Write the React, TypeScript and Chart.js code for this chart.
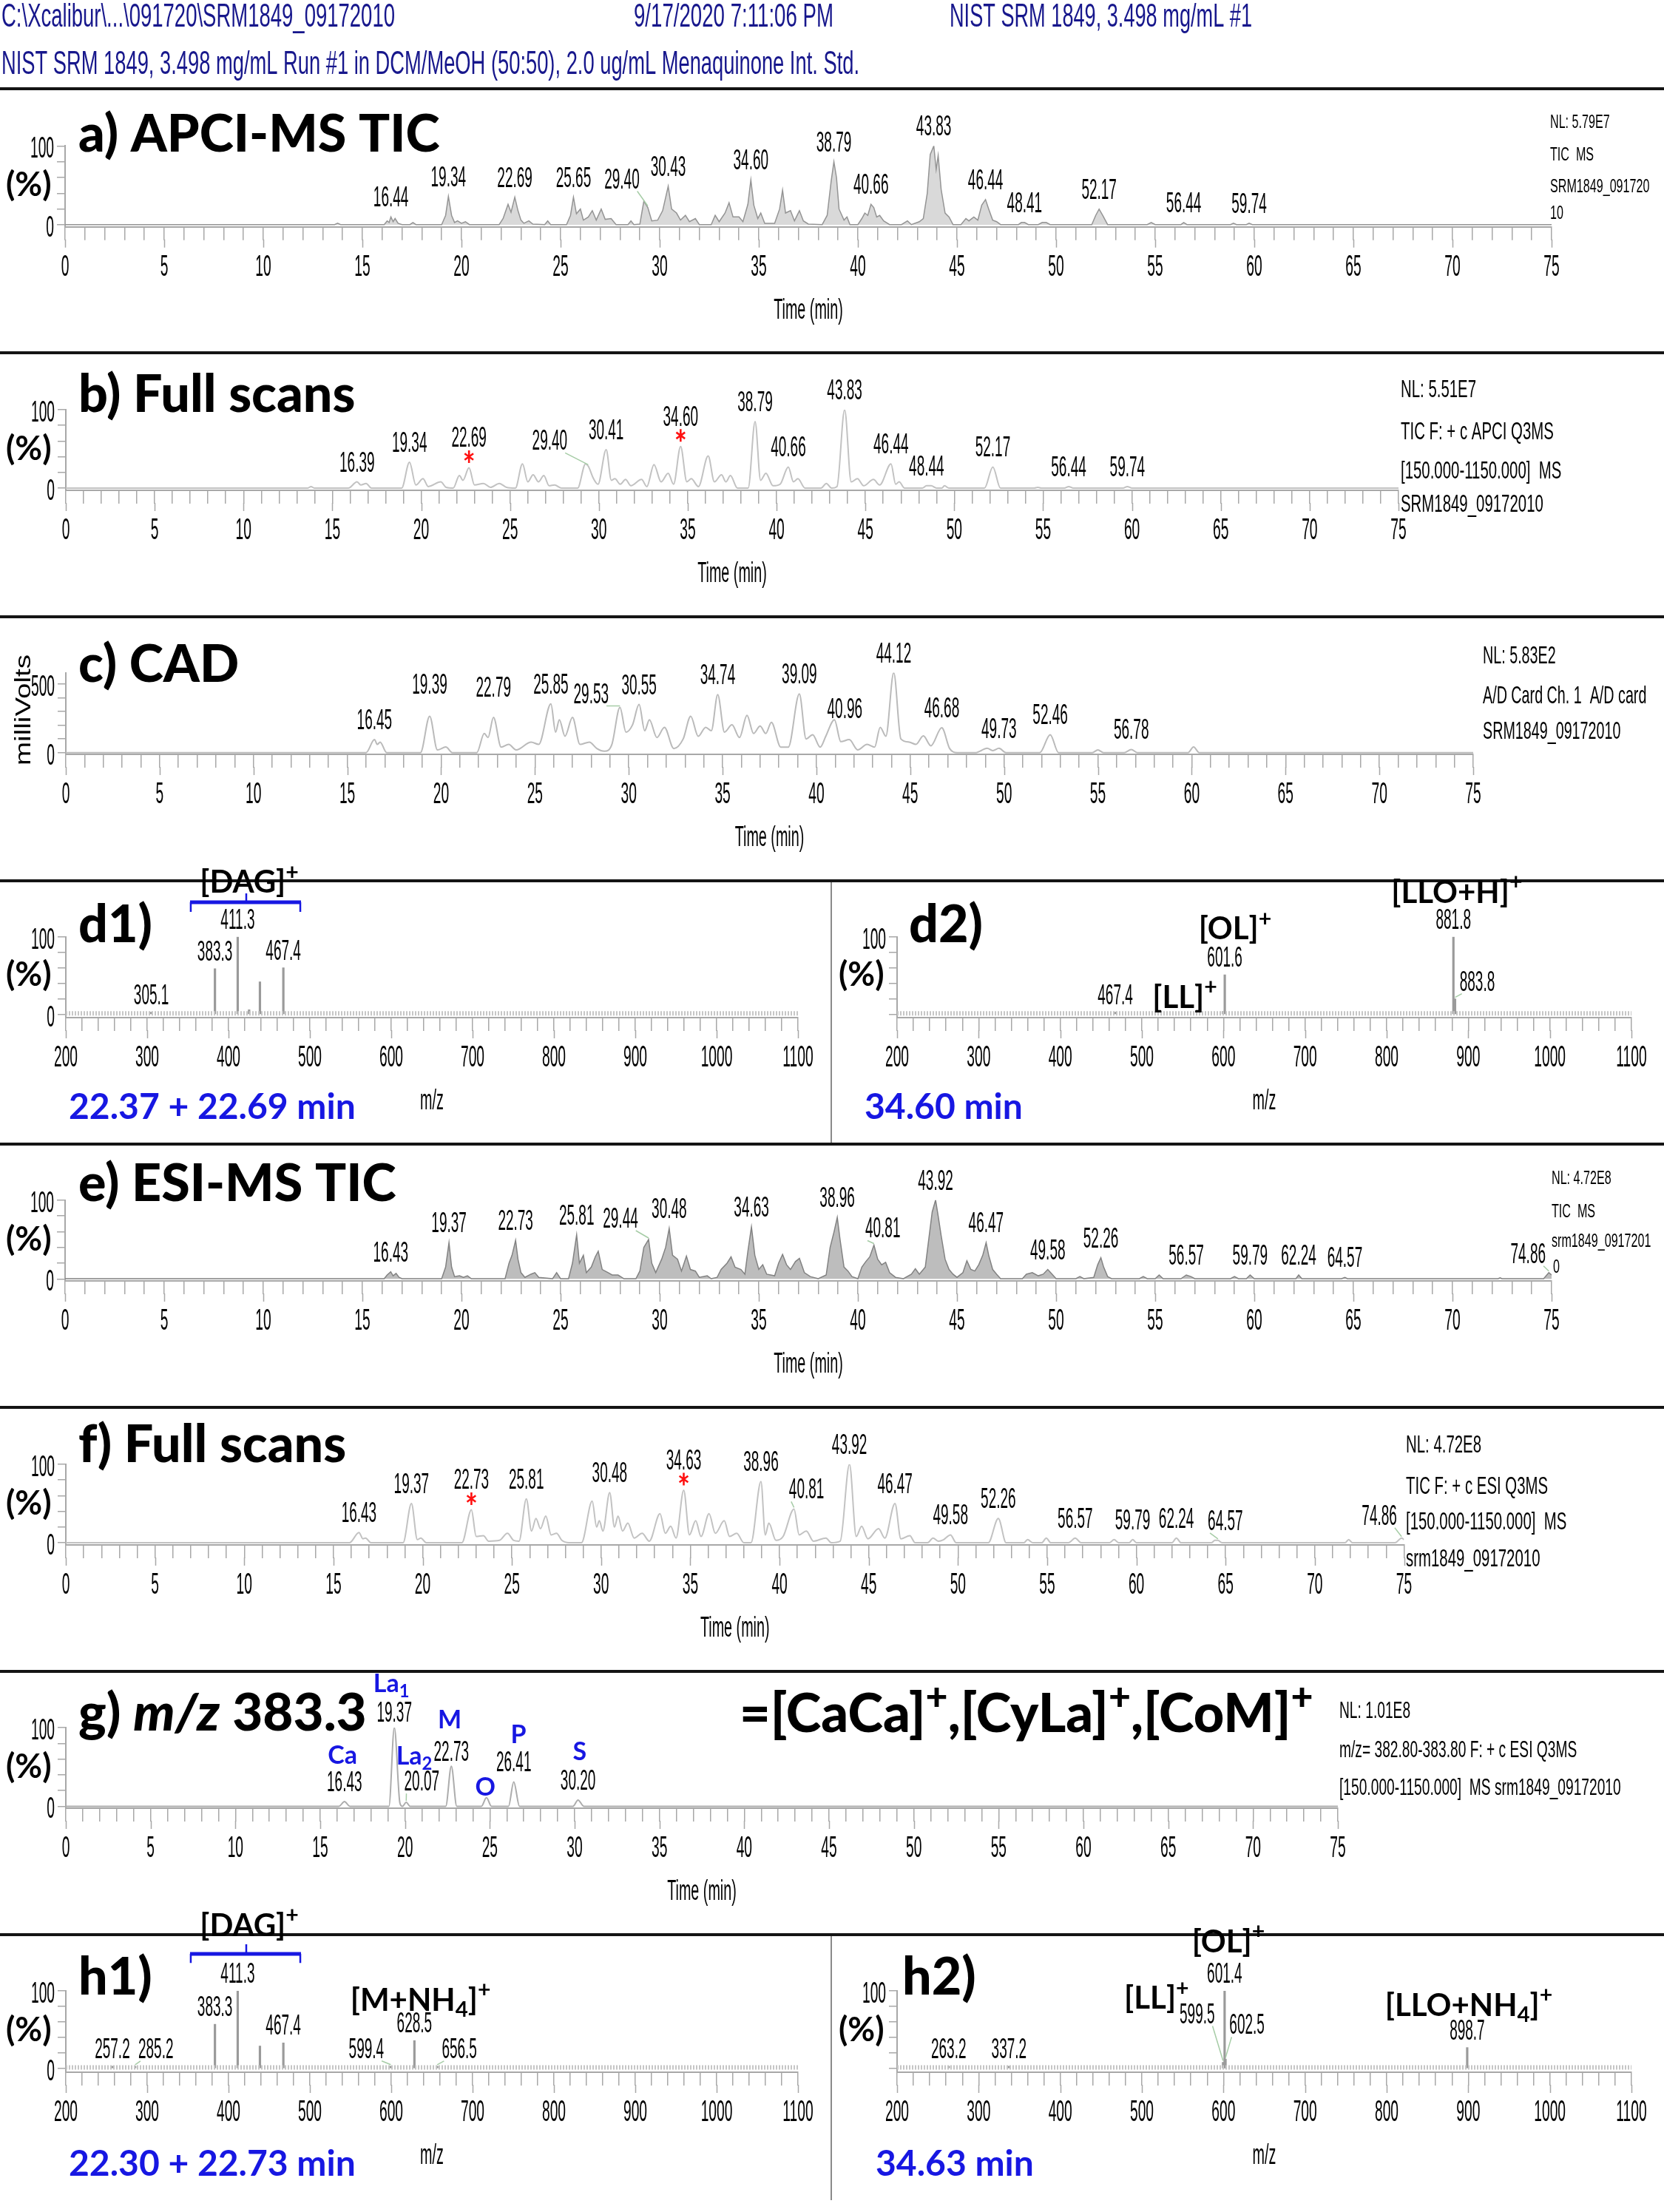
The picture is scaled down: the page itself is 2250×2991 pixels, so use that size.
import React, { useEffect, useRef } from "react";
import { Chart, registerables } from "chart.js";

Chart.register(...registerables);

type Pt = [number, number];

/* ================= DATA ================= */
// a) APCI-MS TIC (time min, relative %)
const apciTic: Pt[] = [
  [0, 0.3], [13.6, 0.3], [13.75, 2], [13.9, 0.3],
  [16.1, 0.3], [16.25, 5], [16.35, 3], [16.44, 10], [16.55, 4], [16.65, 8], [16.8, 2], [17.0, 0.3],
  [17.4, 0.3], [17.55, 3], [17.7, 0.3],
  [19.0, 0.3], [19.2, 12], [19.34, 36], [19.5, 12], [19.65, 3], [19.8, 5], [20.0, 2], [20.2, 4], [20.4, 0.3],
  [21.9, 0.3], [22.1, 8], [22.35, 26], [22.5, 16], [22.69, 35], [22.85, 18], [23.0, 6], [23.15, 2], [23.4, 5], [23.6, 1],
  [24.2, 0.3], [24.35, 5], [24.5, 0.3],
  [25.3, 0.3], [25.5, 12], [25.65, 35], [25.8, 14], [26.0, 20], [26.15, 6], [26.4, 10], [26.6, 18], [26.8, 6], [27.05, 20], [27.25, 7], [27.55, 8], [27.8, 0.3],
  [28.4, 0.3], [28.55, 5], [28.7, 0.3],
  [29.0, 1], [29.2, 30], [29.4, 22], [29.6, 5], [29.9, 6], [30.15, 18], [30.43, 49], [30.6, 20], [30.85, 15], [31.05, 6], [31.3, 12], [31.5, 4], [31.8, 8], [32.0, 0.3],
  [32.6, 0.3], [32.8, 12], [33.0, 4], [33.3, 15], [33.5, 28], [33.7, 10], [34.0, 10], [34.2, 4], [34.45, 26], [34.6, 57], [34.75, 25], [34.95, 8], [35.1, 15], [35.3, 2],
  [35.8, 2], [36.05, 20], [36.2, 44], [36.35, 15], [36.6, 18], [36.8, 5], [37.05, 18], [37.25, 5], [37.5, 1],
  [38.2, 0.3], [38.45, 12], [38.65, 55], [38.79, 80], [38.92, 60], [39.05, 20], [39.3, 6], [39.45, 10], [39.6, 0.3],
  [40.0, 0.3], [40.2, 8], [40.35, 15], [40.5, 12], [40.66, 26], [40.8, 22], [40.95, 10], [41.1, 12], [41.3, 5], [41.6, 0.3],
  [42.2, 0.3], [42.5, 5], [42.7, 0.3], [43.1, 4], [43.3, 8], [43.5, 40], [43.65, 89], [43.83, 100], [43.95, 70], [44.05, 88], [44.2, 45], [44.4, 15], [44.6, 10], [44.8, 0.3],
  [45.2, 0.3], [45.45, 8], [45.6, 5], [45.85, 10], [46.05, 6], [46.25, 25], [46.44, 32], [46.6, 20], [46.8, 6], [47.0, 4], [47.2, 0.3],
  [48.1, 0.3], [48.25, 3], [48.41, 3], [48.6, 0.3], [49.1, 0.3], [49.3, 3], [49.5, 3], [49.7, 0.3],
  [51.8, 0.3], [52.0, 12], [52.17, 20], [52.35, 12], [52.6, 0.3],
  [54.6, 0.3], [54.8, 3], [55.0, 0.3], [56.3, 0.3], [56.44, 3], [56.6, 0.3], [58.8, 0.3], [58.95, 2], [59.1, 0.3], [59.6, 0.3], [59.74, 2], [59.9, 0.3], [75, 0.3],
];
const apciTicPeaks = [16.44, 19.34, 22.69, 25.65, 29.4, 30.43, 34.6, 38.79, 40.66, 43.83, 46.44, 48.41, 52.17, 56.44, 59.74];

// b) APCI full scans
const apciFull: Pt[] = [
  [0, 0], [13.6, 0], [13.8, 2], [14.0, 0],
  [15.9, 0], [16.39, 8], [16.6, 4], [16.9, 6], [17.2, 0],
  [18.9, 0], [19.34, 33], [19.7, 4], [20.1, 12], [20.4, 2], [21.1, 8], [21.4, 1],
  [21.8, 0], [22.15, 16], [22.35, 10], [22.69, 26], [23.0, 4], [23.5, 6], [23.9, 1], [24.4, 6], [24.8, 1],
  [25.3, 0], [25.7, 31], [26.0, 8], [26.3, 17], [26.6, 8], [26.9, 16], [27.2, 3], [27.5, 4], [27.9, 0],
  [28.8, 0], [29.25, 31], [29.4, 28], [29.7, 12], [29.95, 5], [30.41, 49], [30.7, 10], [30.9, 12], [31.2, 5], [31.5, 11], [31.8, 3], [32.4, 11], [32.7, 2],
  [33.1, 30], [33.5, 8], [33.9, 19], [34.2, 5], [34.6, 53], [34.95, 8], [35.2, 12], [35.6, 2], [36.15, 41], [36.5, 8], [36.9, 17], [37.15, 8], [37.4, 16], [37.8, 0],
  [38.4, 0], [38.79, 85], [39.1, 10], [39.4, 19], [39.8, 3], [40.2, 5], [40.66, 27], [40.95, 8], [41.2, 12], [41.6, 0],
  [42.5, 0], [42.8, 6], [43.1, 0], [43.4, 2], [43.83, 100], [44.2, 8], [44.55, 12], [44.9, 3], [45.45, 11], [45.8, 4], [46.44, 31], [46.7, 5], [46.9, 8], [47.2, 0],
  [48.2, 0], [48.44, 3], [48.7, 3], [49.0, 0], [49.3, 0], [49.45, 3], [49.7, 0],
  [51.7, 0], [52.17, 27], [52.6, 0],
  [54.5, 0], [54.7, 1], [54.9, 0], [56.2, 0], [56.44, 2], [56.7, 0], [59.5, 0], [59.74, 2], [60.0, 0], [75, 0],
];
const apciFullPeaks = [16.39, 19.34, 22.69, 29.4, 30.41, 34.6, 38.79, 40.66, 43.83, 46.44, 48.44, 52.17, 56.44, 59.74];
const apciFullStars = [22.69, 34.6];

// c) CAD (milliVolts)
const cadTrace: Pt[] = [
  [0, 0], [16.0, 0], [16.45, 95], [16.6, 60], [16.75, 77], [17.1, 0],
  [18.9, 0], [19.39, 266], [19.8, 20], [20.25, 41], [20.6, 0],
  [21.9, 0], [22.3, 140], [22.5, 110], [22.79, 257], [23.2, 40], [23.6, 60], [24.0, 20], [24.8, 77], [25.2, 60],
  [25.85, 356], [26.1, 150], [26.3, 240], [26.6, 120], [27.0, 257], [27.4, 60], [27.9, 77], [28.3, 30], [28.7, 10],
  [29.1, 60], [29.53, 330], [29.85, 150], [30.2, 203], [30.55, 351], [30.85, 160], [31.1, 240], [31.5, 110], [31.9, 185], [32.4, 30],
  [32.9, 100], [33.3, 266], [33.7, 120], [34.1, 185], [34.4, 160], [34.74, 423], [35.1, 150], [35.5, 203], [35.9, 110], [36.3, 272], [36.65, 140], [37.0, 194], [37.3, 140], [37.6, 221], [38.1, 40], [38.5, 40],
  [39.09, 428], [39.45, 100], [39.8, 131], [40.2, 40], [40.5, 120], [40.96, 240], [41.3, 80], [41.75, 95], [42.2, 20],
  [42.7, 60], [43.1, 40], [43.4, 185], [43.7, 120], [44.12, 583], [44.5, 100], [44.95, 77], [45.3, 60], [45.7, 122], [46.1, 50], [46.68, 182], [47.1, 30], [47.5, 0],
  [48.5, 0], [49.1, 32], [49.4, 15], [49.73, 32], [50.1, 0],
  [51.9, 0], [52.46, 131], [52.9, 0],
  [54.7, 0], [55.0, 20], [55.3, 0], [56.4, 0], [56.78, 23], [57.1, 0], [59.8, 0], [60.1, 41], [60.4, 0], [75, 0],
];
const cadPeaks = [16.45, 19.39, 22.79, 25.85, 29.53, 30.55, 34.74, 39.09, 40.96, 44.12, 46.68, 49.73, 52.46, 56.78];

// e) ESI-MS TIC
const esiTic: Pt[] = [
  [0, 0.3], [16.1, 0.3], [16.25, 5], [16.43, 9], [16.55, 4], [16.7, 7], [16.85, 2], [17.0, 0.3],
  [19.0, 0.3], [19.2, 15], [19.37, 46], [19.5, 15], [19.65, 3], [19.9, 4], [20.1, 2], [20.3, 4], [20.5, 0.3],
  [22.2, 0.3], [22.4, 20], [22.55, 30], [22.73, 49], [22.85, 25], [23.0, 8], [23.2, 2], [23.5, 6], [23.7, 8], [23.9, 2], [24.6, 0.3], [24.8, 8], [25.0, 0.3],
  [25.4, 0.3], [25.6, 20], [25.81, 56], [25.95, 20], [26.15, 30], [26.3, 8], [26.55, 15], [26.75, 28], [26.9, 35], [27.1, 12], [27.4, 8], [27.6, 5], [27.9, 5], [28.2, 0.3],
  [28.8, 0.3], [29.0, 10], [29.2, 40], [29.44, 50], [29.6, 20], [29.8, 8], [30.1, 25], [30.3, 40], [30.48, 64], [30.65, 30], [30.9, 25], [31.1, 10], [31.35, 29], [31.55, 12], [31.8, 10], [32.0, 2], [32.4, 4], [32.6, 0.3],
  [32.9, 2], [33.1, 12], [33.4, 20], [33.6, 28], [33.8, 15], [34.1, 12], [34.3, 6], [34.45, 35], [34.63, 66], [34.8, 30], [35.0, 12], [35.2, 18], [35.4, 6],
  [35.8, 4], [36.0, 20], [36.2, 31], [36.4, 18], [36.6, 12], [36.85, 22], [37.05, 26], [37.3, 8], [37.6, 3], [38.0, 0.3],
  [38.4, 5], [38.6, 40], [38.8, 60], [38.96, 78], [39.1, 50], [39.3, 15], [39.5, 10], [39.7, 3], [40.0, 0.3],
  [40.2, 15], [40.4, 22], [40.6, 28], [40.81, 43], [41.0, 25], [41.2, 18], [41.4, 21], [41.6, 8], [41.9, 2], [42.3, 0.3],
  [42.7, 6], [42.9, 13], [43.1, 6], [43.4, 15], [43.6, 55], [43.75, 85], [43.92, 100], [44.05, 80], [44.2, 55], [44.4, 25], [44.6, 12], [44.8, 6], [45.0, 2],
  [45.3, 8], [45.5, 23], [45.7, 12], [45.9, 10], [46.1, 18], [46.3, 30], [46.47, 46], [46.6, 30], [46.8, 12], [47.0, 6], [47.2, 0.3],
  [48.3, 0.3], [48.5, 6], [48.8, 8], [49.1, 4], [49.35, 6], [49.58, 12], [49.8, 6], [50.0, 0.3],
  [51.0, 0.3], [51.2, 3], [51.4, 0.3], [51.9, 2], [52.1, 18], [52.26, 27], [52.4, 15], [52.6, 3], [52.8, 0.3],
  [54.2, 0.3], [54.4, 3], [54.6, 0.3], [55.0, 0.3], [55.2, 5], [55.4, 0.3], [56.3, 0.3], [56.57, 5], [56.8, 3], [57.0, 0.3],
  [58.8, 0.3], [59.0, 3], [59.2, 0.3], [59.6, 0.3], [59.79, 5], [60.0, 0.3], [62.1, 0.3], [62.24, 5], [62.4, 0.3], [64.4, 0.3], [64.57, 2], [64.7, 0.3],
  [72.3, 0.3], [72.4, 1.5], [72.5, 0.3], [74.6, 0.3], [74.86, 8], [75, 5],
];
const esiTicPeaks = [16.43, 19.37, 22.73, 25.81, 29.44, 30.48, 34.63, 38.96, 40.81, 43.92, 46.47, 49.58, 52.26, 56.57, 59.79, 62.24, 64.57, 74.86];

// f) ESI full scans
const esiFull: Pt[] = [
  [0, 0], [15.9, 0], [16.43, 13], [16.65, 5], [16.8, 6], [17.1, 0],
  [18.9, 0], [19.37, 50], [19.7, 4], [19.9, 6], [20.2, 0],
  [22.2, 0], [22.73, 42], [23.0, 8], [23.4, 9], [23.7, 2], [24.3, 3], [24.75, 12], [25.1, 3],
  [25.4, 2], [25.81, 56], [26.1, 15], [26.35, 31], [26.6, 18], [26.9, 34], [27.2, 10], [27.5, 12], [27.8, 3], [28.2, 0],
  [28.9, 0], [29.5, 53], [29.75, 20], [29.9, 28], [30.1, 15], [30.48, 64], [30.75, 20], [30.95, 34], [31.2, 15], [31.5, 25], [31.85, 6], [32.3, 12], [32.7, 2],
  [33.3, 37], [33.6, 12], [33.9, 21], [34.2, 6], [34.63, 67], [34.95, 10], [35.3, 28], [35.6, 8], [36.05, 37], [36.4, 12], [36.9, 28], [37.2, 8], [37.6, 12], [38.0, 0],
  [38.4, 0], [38.96, 78], [39.2, 10], [39.4, 25], [39.8, 3], [40.2, 8], [40.81, 43], [41.1, 10], [41.5, 15], [41.9, 2], [42.6, 6], [42.9, 0],
  [43.4, 2], [43.92, 100], [44.3, 8], [44.6, 21], [44.95, 5], [45.55, 18], [45.9, 6], [46.47, 50], [46.8, 5], [47.3, 9], [47.6, 0],
  [48.3, 0], [48.6, 6], [48.9, 2], [49.2, 4], [49.58, 10], [49.9, 0],
  [51.7, 0], [52.26, 31], [52.7, 0],
  [53.7, 0], [53.9, 4], [54.2, 0], [54.7, 0], [54.95, 6], [55.2, 0], [56.2, 0], [56.57, 6], [56.9, 0], [58.5, 0], [58.75, 4], [59.0, 0], [59.6, 0], [59.79, 4], [60.0, 0],
  [62.0, 0], [62.24, 6], [62.5, 0], [64.2, 0], [64.4, 3], [64.57, 3], [64.8, 0], [71.7, 0], [71.9, 4], [72.1, 0], [74.5, 0], [74.86, 6], [75, 4],
];
const esiFullPeaks = [16.43, 19.37, 22.73, 25.81, 30.48, 34.63, 38.96, 40.81, 43.92, 46.47, 49.58, 52.26, 56.57, 59.79, 62.24, 64.57, 74.86];
const esiFullStars = [22.73, 34.63];

// g) m/z 383.3 extracted ion chromatogram
const xic383: Pt[] = [
  [0, 0], [16.1, 0], [16.43, 6], [16.75, 0],
  [19.05, 0], [19.37, 100], [19.7, 4], [19.85, 0], [20.07, 5], [20.3, 0],
  [22.4, 0], [22.73, 51], [23.05, 0],
  [24.5, 0], [24.8, 11], [25.1, 0],
  [26.1, 0], [26.41, 31], [26.75, 0],
  [29.9, 0], [30.2, 8], [30.55, 0], [75, 0],
];
const xic383Peaks = [16.43, 19.37, 20.07, 22.73, 26.41, 30.2];

// mass spectra (m/z, relative %)
const d1Sticks: Pt[] = [[305.1, 3], [383.3, 59], [411.3, 100], [425.3, 6], [438.6, 42], [467.4, 60]];
const d1Peaks = [305.1, 383.3, 411.3, 467.4];
const d2Sticks: Pt[] = [[467.4, 3], [599.5, 4], [601.6, 51], [881.8, 100], [883.8, 20]];
const d2Peaks = [467.4, 601.6, 881.8, 883.8];
const h1Sticks: Pt[] = [[257.2, 3], [285.2, 3], [383.3, 57], [411.3, 100], [438.6, 29], [467.4, 33], [599.4, 3], [628.5, 36], [656.5, 3]];
const h1Peaks = [257.2, 285.2, 383.3, 411.3, 467.4, 599.4, 628.5, 656.5];
const h2Sticks: Pt[] = [[263.2, 3], [337.2, 3], [599.5, 8], [601.4, 100], [602.5, 12], [898.7, 27]];
const h2Peaks = [263.2, 337.2, 599.5, 601.4, 602.5, 898.7];

// ticks
const timeTickLabels = [0, 5, 10, 15, 20, 25, 30, 35, 40, 45, 50, 55, 60, 65, 70, 75];
const timeMinorTicks = Array.from({ length: 76 }, (_, i) => i);
const mzTickLabels = [200, 300, 400, 500, 600, 700, 800, 900, 1000, 1100];
const mzMinorTicks = Array.from({ length: 46 }, (_, i) => 200 + i * 20);
const pctTicks = [0, 20, 40, 60, 80, 100];
const mvTicks = [0, 100, 200, 300, 400, 500];

/* ================= DRAW HELPERS ================= */
const AX = "#a8a8a8";
const COND = '"Liberation Sans", Arimo, Arial, sans-serif';
const HEAVY = 'Lato, "Noto Sans", "DejaVu Sans", sans-serif';
const BLUE = "#1717e2";
const NAVY = "#17178c";
const LEADER = "#a6cca6";

type Ctx = CanvasRenderingContext2D;
type Run = { t: string; m?: "sup" | "sub" | "it" };

function drawCond(ctx: Ctx, text: string, x: number, y: number, size: number, sx: number,
  align: "left" | "center" | "right" = "center", color = "#000") {
  ctx.save();
  ctx.font = `normal ${size}px ${COND}`;
  const w = ctx.measureText(text).width * sx;
  const x0 = align === "center" ? x - w / 2 : align === "right" ? x - w : x;
  ctx.translate(x0, y);
  ctx.scale(sx, 1);
  ctx.fillStyle = color;
  ctx.textAlign = "left";
  ctx.textBaseline = "alphabetic";
  ctx.fillText(text, 0, 0);
  ctx.restore();
  return w;
}

function drawFit(ctx: Ctx, text: string, x: number, y: number, size: number, width: number,
  color = "#000", align: "left" | "center" = "left") {
  ctx.save();
  ctx.font = `normal ${size}px ${COND}`;
  const w = ctx.measureText(text).width;
  ctx.restore();
  drawCond(ctx, text, x, y, size, width / w, align, color);
}

function drawRich(ctx: Ctx, runs: Run[], x: number, y: number, size: number, color: string,
  align: "left" | "center" = "left", weight = "bold") {
  const font = (r: Run) => {
    const s = r.m === "sup" ? size * 0.72 : r.m === "sub" ? size * 0.7 : size;
    return `${r.m === "it" ? "italic " : ""}${weight} ${s}px ${HEAVY}`;
  };
  ctx.save();
  ctx.textAlign = "left";
  ctx.textBaseline = "alphabetic";
  ctx.fillStyle = color;
  const ws = runs.map((r) => { ctx.font = font(r); return ctx.measureText(r.t).width; });
  const total = ws.reduce((a, b) => a + b, 0);
  let cx = align === "center" ? x - total / 2 : x;
  runs.forEach((r, i) => {
    ctx.font = font(r);
    const dy = r.m === "sup" ? -size * 0.42 : r.m === "sub" ? size * 0.2 : 0;
    ctx.fillText(r.t, cx, y + dy);
    cx += ws[i];
  });
  ctx.restore();
}

function drawStar(ctx: Ctx, x: number, y: number) {
  ctx.save();
  ctx.strokeStyle = "#ff1010";
  ctx.lineWidth = 2.6;
  ctx.beginPath();
  const r = 8.5;
  for (let k = 0; k < 3; k++) {
    const a = Math.PI / 2 + (k * Math.PI) / 3;
    ctx.moveTo(x + Math.cos(a) * r * 0.8, y + Math.sin(a) * r);
    ctx.lineTo(x - Math.cos(a) * r * 0.8, y - Math.sin(a) * r);
  }
  ctx.stroke();
  ctx.restore();
}

/* ================= PANELS ================= */
interface Panel {
  id: string;
  top: number; height: number;
  xPx: [number, number]; xRange: [number, number];
  yPx: [number, number]; yRange: [number, number];
  ms: boolean;
  yTicks: number[]; yLabels: number[];
  minorTicks: number[]; majorTicks: number[];
  axisTitle: string;
  trace?: Pt[]; sticks?: Pt[];
  peaks: number[];
  stars?: number[];
  nudges?: Record<string, [number, number]>;
  leaders?: string[];
  line?: { color: string; width: number; fill?: string; smooth: boolean };
  extra?: (ctx: Ctx, xs: any, ys: any) => void;
}

const TIC_A = { color: "#949494", width: 1.5, fill: "rgba(165,165,165,0.42)", smooth: false };
const TIC_E = { color: "#828282", width: 1.5, fill: "rgba(135,135,135,0.55)", smooth: false };
const FULL = { color: "#c2c2c2", width: 2, smooth: true };
const CADL = { color: "#bababa", width: 2, smooth: true };
const XICL = { color: "#acacac", width: 2, smooth: true };

function ion(ctx: Ctx, xs: any, ys: any, runs: Run[], mz: number, yc: number) {
  drawRich(ctx, runs, xs.getPixelForValue(mz), ys.getPixelForValue(yc) + 15, 42, "#000", "center", "bold");
}
function bracket(ctx: Ctx, xs: any, ys: any, m1: number, m2: number, mc: number, yv: number, yEnd: number, yTop: number) {
  const x1 = xs.getPixelForValue(m1), x2 = xs.getPixelForValue(m2), xc = xs.getPixelForValue(mc);
  const y = ys.getPixelForValue(yv), ye = ys.getPixelForValue(yEnd), yt = ys.getPixelForValue(yTop);
  ctx.save();
  ctx.strokeStyle = BLUE;
  ctx.lineWidth = 2.5;
  ctx.beginPath();
  ctx.moveTo(x1, ye); ctx.lineTo(x1, y);
  ctx.moveTo(x2, ye); ctx.lineTo(x2, y);
  ctx.moveTo(xc, y); ctx.lineTo(xc, yt);
  ctx.stroke();
  ctx.lineWidth = 5;
  ctx.beginPath();
  ctx.moveTo(x1 - 1, y); ctx.lineTo(x2 + 1, y);
  ctx.stroke();
  ctx.restore();
}

const chromBase = {
  ms: false, yTicks: pctTicks, yLabels: [0, 100], minorTicks: timeMinorTicks, majorTicks: timeTickLabels,
  axisTitle: "Time (min)", xRange: [0, 75] as [number, number],
};
const msBase = {
  ms: true, yTicks: pctTicks, minorTicks: mzMinorTicks, majorTicks: mzTickLabels,
  axisTitle: "m/z", xRange: [200, 1100] as [number, number],
};

const PANELS: Panel[] = [
  { ...chromBase, id: "a", top: 124, height: 350, xPx: [88, 2098], yPx: [197.3, 306.7], yRange: [100, -2.5],
    trace: apciTic, peaks: apciTicPeaks, line: TIC_A, nudges: { "29.40": [-35, -12] }, leaders: ["29.40"] },
  { ...chromBase, id: "b", top: 480, height: 350, xPx: [89, 1891], yPx: [554, 663], yRange: [100, -2.8],
    trace: apciFull, peaks: apciFullPeaks, stars: apciFullStars, line: FULL, nudges: { "29.40": [-52, -8] }, leaders: ["29.40"] },
  { ...chromBase, id: "c", top: 836, height: 350, xPx: [89, 1992], yPx: [909.6, 1020], yRange: [583, -12.4],
    yTicks: mvTicks, yLabels: [0, 500], trace: cadTrace, peaks: cadPeaks, line: CADL,
    nudges: { "19.39": [0, -16], "22.79": [0, -14], "40.96": [14, 12], "29.53": [-39, 8] }, leaders: ["29.53"] },
  { ...msBase, id: "d1", top: 1150, height: 395, xPx: [89, 1079], yPx: [1266.7, 1375.9], yRange: [100, -4],
    yLabels: [0, 100], sticks: d1Sticks, peaks: d1Peaks,
    extra: (ctx, xs, ys) => {
      ion(ctx, xs, ys, [{ t: "[DAG]" }, { t: "+", m: "sup" }], 425.5, 171);
      bracket(ctx, xs, ys, 353.6, 488.2, 421.8, 144.5, 132, 156);
    } },
  { ...msBase, id: "d2", top: 1150, height: 395, xPx: [1213, 2206], yPx: [1266.7, 1375.9], yRange: [100, -4],
    yLabels: [100], sticks: d2Sticks, peaks: d2Peaks, nudges: { "883.8": [30, 0] }, leaders: ["883.8"],
    extra: (ctx, xs, ys) => {
      ion(ctx, xs, ys, [{ t: "[OL]" }, { t: "+", m: "sup" }], 614.2, 111);
      ion(ctx, xs, ys, [{ t: "[LL]" }, { t: "+", m: "sup" }], 552.6, 22.5);
      ion(ctx, xs, ys, [{ t: "[LLO+H]" }, { t: "+", m: "sup" }], 886, 158);
    } },
  { ...chromBase, id: "e", top: 1548, height: 352, xPx: [88, 2098], yPx: [1622.7, 1732], yRange: [100, -2.5],
    trace: esiTic, peaks: esiTicPeaks, line: TIC_E,
    nudges: { "29.44": [-38, -2], "40.81": [12, 4], "74.86": [-28, 1] }, leaders: ["29.44", "40.81", "74.86"] },
  { ...chromBase, id: "f", top: 1905, height: 352, xPx: [89, 1898.5], yPx: [1980, 2089], yRange: [100, -2.8],
    trace: esiFull, peaks: esiFullPeaks, stars: esiFullStars, line: FULL,
    nudges: { "40.81": [17, 0], "74.86": [-30, -4], "64.57": [10, 0] }, leaders: ["40.81", "74.86", "64.57"] },
  { ...chromBase, id: "g", top: 2262, height: 350, xPx: [89, 1809], yPx: [2336, 2445], yRange: [100, -2.4],
    trace: xic383, peaks: xic383Peaks, line: XICL,
    nudges: { "20.07": [21, -2], "19.37": [0, 6], "22.73": [0, 7] }, leaders: ["20.07"],
    extra: (ctx, xs, ys) => {
      const g = (runs: Run[], t: number, v: number) =>
        drawRich(ctx, runs, xs.getPixelForValue(t), ys.getPixelForValue(v) + 12, 34, BLUE, "center", "bold");
      g([{ t: "La" }, { t: "1", m: "sub" }], 19.19, 156);
      g([{ t: "Ca" }], 16.31, 65);
      g([{ t: "La" }, { t: "2", m: "sub" }], 20.54, 64);
      g([{ t: "M" }], 22.63, 110);
      g([{ t: "O" }], 24.73, 25);
      g([{ t: "P" }], 26.69, 91.5);
      g([{ t: "S" }], 30.3, 70);
    } },
  { ...msBase, id: "h1", top: 2570, height: 421, xPx: [89, 1079], yPx: [2692, 2802], yRange: [100, -4.8],
    yLabels: [0, 100], sticks: h1Sticks, peaks: h1Peaks,
    nudges: { "285.2": [28, 0], "599.4": [-33, 0], "656.5": [30, 0] }, leaders: ["285.2", "599.4", "656.5"],
    extra: (ctx, xs, ys) => {
      ion(ctx, xs, ys, [{ t: "[DAG]" }, { t: "+", m: "sup" }], 425.5, 185);
      bracket(ctx, xs, ys, 353.6, 488.2, 421.8, 147.6, 136, 160);
      ion(ctx, xs, ys, [{ t: "[M+NH" }, { t: "4", m: "sub" }, { t: "]" }, { t: "+", m: "sup" }], 636, 88.6);
    } },
  { ...msBase, id: "h2", top: 2570, height: 421, xPx: [1213, 2206], yPx: [2692, 2802], yRange: [100, -4.8],
    yLabels: [100], sticks: h2Sticks, peaks: h2Peaks,
    nudges: { "599.5": [-35, -42], "602.5": [29, -23] }, leaders: ["599.5", "602.5"],
    extra: (ctx, xs, ys) => {
      ion(ctx, xs, ys, [{ t: "[OL]" }, { t: "+", m: "sup" }], 606, 164);
      ion(ctx, xs, ys, [{ t: "[LL]" }, { t: "+", m: "sup" }], 518, 91);
      ion(ctx, xs, ys, [{ t: "[LLO+NH" }, { t: "4", m: "sub" }, { t: "]" }, { t: "+", m: "sup" }], 900.6, 82);
    } },
];

function apexOf(p: Panel, v: number) {
  const src = p.ms ? p.sticks! : p.trace!;
  for (const [x, y] of src) if (Math.abs(x - v) < 1e-6) return y;
  return 0;
}

function labelPlugin(p: Panel) {
  return {
    id: "panelLabels_" + p.id,
    afterDraw(chart: any) {
      const ctx: Ctx = chart.ctx;
      const xs = chart.scales.x, ys = chart.scales.y, a = chart.chartArea;
      ctx.save();
      // major tick extension
      ctx.strokeStyle = AX;
      ctx.lineWidth = 1.5;
      ctx.beginPath();
      p.majorTicks.forEach((v) => {
        const px = Math.round(xs.getPixelForValue(v)) + 0.5;
        ctx.moveTo(px, a.bottom + 17);
        ctx.lineTo(px, a.bottom + 28);
      });
      ctx.stroke();
      // x tick labels
      p.majorTicks.forEach((v) => drawCond(ctx, String(v), xs.getPixelForValue(v), a.bottom + 66, 40, 0.48));
      // y tick labels
      p.yLabels.forEach((v) => drawCond(ctx, String(v), a.left - 15, ys.getPixelForValue(v) + 16, 40, 0.48, "right"));
      // axis title
      drawCond(ctx, p.axisTitle, (a.left + a.right) / 2, a.bottom + 124, 38, 0.52);
      // peak labels
      const nud = p.nudges || {};
      const leaders = p.leaders || [];
      const stars = p.stars || [];
      p.peaks.forEach((v) => {
        const txt = v.toFixed(p.ms ? 1 : 2);
        const [dx, dy] = nud[txt] || [0, 0];
        const px = xs.getPixelForValue(v);
        const apx = ys.getPixelForValue(apexOf(p, v));
        const star = stars.includes(v);
        const gap = p.ms ? 11 : star ? 28 : 14;
        const lx = px + dx, ly = apx - gap + dy;
        const w = drawCond(ctx, txt, lx, ly, 38, 0.5);
        if (star) drawStar(ctx, px, apx - 15);
        if (leaders.includes(txt)) {
          ctx.save();
          ctx.strokeStyle = LEADER;
          ctx.lineWidth = 1.5;
          ctx.beginPath();
          const sx = dx < 0 ? lx + w / 2 - 3 : dx > 0 ? lx - w / 2 + 3 : lx;
          ctx.moveTo(sx, ly + 4);
          ctx.lineTo(px, apx - 2);
          ctx.stroke();
          ctx.restore();
        }
      });
      if (p.extra) p.extra(ctx, xs, ys);
      ctx.restore();
    },
  };
}

function makeConfig(p: Panel) {
  const padding = {
    left: p.xPx[0],
    right: 2250 - p.xPx[1],
    top: p.yPx[0] - p.top,
    bottom: p.top + p.height - p.yPx[1],
  };
  let datasets: any[];
  if (p.ms) {
    datasets = [
      { type: "line", data: [{ x: 200, y: 1.4 }, { x: 1100, y: 1.4 }], borderColor: "#c6c6c6", borderWidth: 6,
        borderDash: [2, 2], pointRadius: 0, fill: false },
      { type: "bar", data: p.sticks!.map(([x, y]) => ({ x, y })), backgroundColor: "#9a9a9a", barThickness: 2.5 },
    ];
  } else {
    const l = p.line!;
    datasets = [
      { type: "line", data: p.trace!.map(([x, y]) => ({ x, y })), borderColor: l.color, borderWidth: l.width,
        backgroundColor: l.fill || "transparent", fill: l.fill ? "origin" : false, pointRadius: 0,
        tension: 0, cubicInterpolationMode: l.smooth ? "monotone" : "default" },
    ];
  }
  return {
    type: p.ms ? "bar" : "line",
    data: { datasets },
    options: {
      responsive: false,
      maintainAspectRatio: false,
      animation: false,
      devicePixelRatio: 1,
      events: [],
      layout: { padding },
      plugins: { legend: { display: false }, tooltip: { enabled: false }, title: { display: false } },
      scales: {
        x: {
          type: "linear", min: p.xRange[0], max: p.xRange[1], offset: false,
          afterFit: (s: any) => { s.height = 0; },
          afterBuildTicks: (s: any) => { s.ticks = p.minorTicks.map((v) => ({ value: v })); },
          ticks: { display: false },
          grid: { display: true, drawOnChartArea: false, drawTicks: true, tickLength: 18, color: AX, lineWidth: 1.5, offset: false },
          border: { display: true, color: AX, width: 2 },
        },
        y: {
          type: "linear", min: p.yRange[1], max: p.yRange[0],
          afterFit: (s: any) => { s.width = 0; },
          afterBuildTicks: (s: any) => { s.ticks = p.yTicks.map((v) => ({ value: v })); },
          ticks: { display: false },
          grid: { display: true, drawOnChartArea: false, drawTicks: true, tickLength: 11, color: AX, lineWidth: 1.5 },
          border: { display: true, color: AX, width: 2 },
        },
      },
    },
    plugins: [labelPlugin(p)],
  };
}

function PanelChart({ p }: { p: Panel }) {
  const ref = useRef<HTMLCanvasElement>(null);
  useEffect(() => {
    const chart = new Chart(ref.current as HTMLCanvasElement, makeConfig(p) as any);
    return () => chart.destroy();
  }, [p]);
  return (
    <canvas ref={ref} width={2250} height={p.height}
      style={{ position: "absolute", left: 0, top: p.top, width: 2250, height: p.height }} />
  );
}

/* ================= STATIC TEXT ================= */
function drawStatic(ctx: Ctx) {
  ctx.clearRect(0, 0, 2250, 2991);
  // header
  drawFit(ctx, "C:\\Xcalibur\\...\\091720\\SRM1849_09172010", 2, 36, 44, 532, NAVY);
  drawFit(ctx, "9/17/2020 7:11:06 PM", 857, 36, 44, 270, NAVY);
  drawFit(ctx, "NIST SRM 1849, 3.498 mg/mL #1", 1284, 36, 44, 409, NAVY);
  drawFit(ctx, "NIST SRM 1849, 3.498 mg/mL Run #1 in DCM/MeOH (50:50), 2.0 ug/mL Menaquinone Int. Std.", 2, 100, 44, 1160, NAVY);

  // panel titles
  const titles: [string, number, number][] = [
    ["a) APCI-MS TIC", 106, 205], ["b) Full scans", 106, 557], ["c) CAD", 106, 922],
    ["d1)", 106, 1274], ["d2)", 1229, 1274], ["e) ESI-MS TIC", 106, 1624], ["f) Full scans", 106, 1977],
    ["h1)", 106, 2697], ["h2)", 1220, 2697],
  ];
  titles.forEach(([t, x, y]) => drawRich(ctx, [{ t }], x, y, 70, "#000", "left", "900"));
  drawRich(ctx, [{ t: "g) " }, { t: "m/z", m: "it" }, { t: " 383.3" }], 106, 2340, 71, "#000", "left", "900");
  drawRich(ctx, [{ t: "=[CaCa]" }, { t: "+", m: "sup" }, { t: ",[CyLa]" }, { t: "+", m: "sup" }, { t: ",[CoM]" }, { t: "+", m: "sup" }],
    1000, 2342, 72, "#000", "left", "900");

  // (%) labels
  const pct: [number, number][] = [[8, 265], [8, 622], [8, 1333], [1134, 1333], [8, 1691], [8, 2048], [8, 2404], [8, 2760], [1134, 2760]];
  pct.forEach(([x, y]) => drawRich(ctx, [{ t: "(%)" }], x, y, 45, "#000", "left", "bold"));
  // milliVolts
  ctx.save();
  ctx.translate(41, 960);
  ctx.rotate(-Math.PI / 2);
  drawFit(ctx, "milliVolts", 0, 0, 30, 150, "#000", "center");
  ctx.restore();

  // right side info
  const info: [string, number, number, number, number][] = [
    ["NL: 5.79E7", 2096, 173, 26, 0.62], ["TIC  MS", 2096, 217, 26, 0.62], ["SRM1849_091720", 2096, 260, 26, 0.62], ["10", 2096, 296, 26, 0.62],
    ["NL: 5.51E7", 1894, 537, 34, 0.6], ["TIC F: + c APCI Q3MS", 1894, 594, 34, 0.6], ["[150.000-1150.000]  MS", 1894, 647, 34, 0.6], ["SRM1849_09172010", 1894, 692, 34, 0.6],
    ["NL: 5.83E2", 2005, 897, 34, 0.58], ["A/D Card Ch. 1  A/D card", 2005, 951, 34, 0.58], ["SRM1849_09172010", 2005, 999, 34, 0.58],
    ["NL: 4.72E8", 2098, 1601, 26, 0.62], ["TIC  MS", 2098, 1646, 26, 0.62], ["srm1849_0917201", 2098, 1686, 26, 0.62], ["0", 2100, 1721, 26, 0.62],
    ["NL: 4.72E8", 1901, 1964, 34, 0.6], ["TIC F: + c ESI Q3MS", 1901, 2020, 34, 0.6], ["[150.000-1150.000]  MS", 1901, 2068, 34, 0.6], ["srm1849_09172010", 1901, 2118, 34, 0.6],
    ["NL: 1.01E8", 1811, 2323, 32, 0.6], ["m/z= 382.80-383.80 F: + c ESI Q3MS", 1811, 2376, 32, 0.6], ["[150.000-1150.000]  MS srm1849_09172010", 1811, 2427, 32, 0.6],
  ];
  info.forEach(([t, x, y, s, sx]) => drawCond(ctx, t, x, y, s, sx, "left"));

  // spectrum retention times
  const rt: [string, number, number][] = [
    ["22.37 + 22.69 min", 93, 1513], ["34.60 min", 1169, 1513], ["22.30 + 22.73 min", 93, 2942], ["34.63 min", 1184, 2942],
  ];
  rt.forEach(([t, x, y]) => drawRich(ctx, [{ t }], x, y, 48, BLUE, "left", "bold"));
}

function Overlay() {
  const ref = useRef<HTMLCanvasElement>(null);
  useEffect(() => {
    const ctx = (ref.current as HTMLCanvasElement).getContext("2d");
    if (ctx) drawStatic(ctx);
  }, []);
  return <canvas ref={ref} width={2250} height={2991} style={{ position: "absolute", left: 0, top: 0, width: 2250, height: 2991 }} />;
}

const hLines = [118, 475, 832, 1189, 1545, 1901, 2258, 2614];
const vLines: [number, number][] = [[1193, 352], [2618, 357]];

export default function App() {
  return (
    <div style={{ position: "absolute", left: 0, top: 0, width: 2250, height: 2991, background: "#fff", overflow: "hidden" }}>
      {hLines.map((y) => (
        <div key={"h" + y} style={{ position: "absolute", left: 0, top: y, width: 2250, height: 4, background: "#141414" }} />
      ))}
      {vLines.map(([y, h]) => (
        <div key={"v" + y} style={{ position: "absolute", left: 1123, top: y, width: 2, height: h, background: "#8a8a8a" }} />
      ))}
      <Overlay />
      {PANELS.map((p) => <PanelChart key={p.id} p={p} />)}
    </div>
  );
}
